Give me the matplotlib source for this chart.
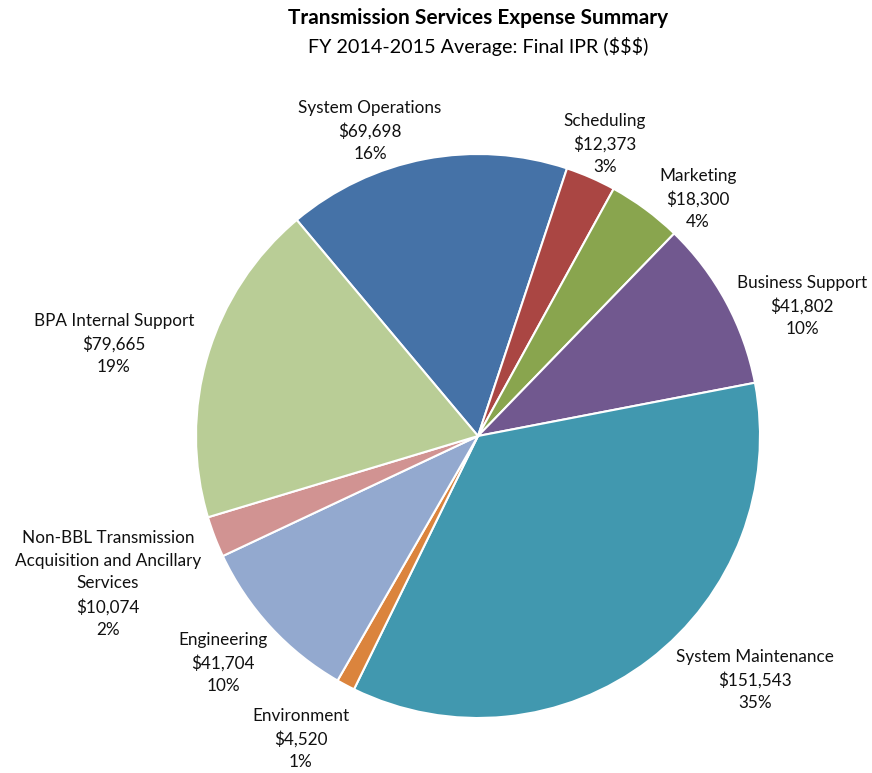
import matplotlib.pyplot as plt

# Transmission services expense categories, FY 2014-2015 average ($ thousands)
categories = ["System Operations", "Scheduling", "Marketing", "Business Support",
              "System Maintenance", "Environment", "Engineering",
              "Non-BBL Transmission\nAcquisition and Ancillary\nServices",
              "BPA Internal Support"]
expenses = [69698, 12373, 18300, 41802, 151543, 4520, 41704, 10074, 79665]
percents = [16, 3, 4, 10, 35, 1, 10, 2, 19]

colors = ["#4572A7", "#AA4643", "#89A54E", "#71588F", "#4198AF",
          "#DB843D", "#93A9CF", "#D19392", "#B9CD96"]

# label anchor points, in units of the pie radius
label_pos = [(-0.383, 1.082), (0.450, 1.035), (0.780, 0.840), (1.150, 0.461),
             (0.982, -0.865), (-0.628, -1.074), (-0.904, -0.805),
             (-1.312, -0.525), (-1.291, 0.326)]

plt.rcParams['font.family'] = ['Lato', 'DejaVu Sans']

W, H = 872, 773
cx, cy, R = 478, 436, 282

fig = plt.figure(figsize=(W / 100, H / 100), dpi=100)
ax = fig.add_axes([0, 0, 1, 1])

ax.pie(expenses, colors=colors, startangle=130, counterclock=False, radius=1,
       wedgeprops=dict(edgecolor='white', linewidth=1.5))

# pie() resets the limits, so fix them afterwards
ax.set_xlim(-cx / R, (W - cx) / R)
ax.set_ylim(-(H - cy) / R, cy / R)
ax.set_aspect('equal')
ax.axis('off')

for name, val, pct, (lx, ly) in zip(categories, expenses, percents, label_pos):
    ax.text(lx, ly, f"{name}\n${val:,}\n{pct}%", ha='center', va='center',
            fontsize=12.3, linespacing=1.5, color='#111111')

tx = cx / W
fig.text(tx, 1 - 18 / H, "Transmission Services Expense Summary", ha='center',
         va='center', fontsize=15, fontweight='bold', color='black')
fig.text(tx, 1 - 47 / H, "FY 2014-2015 Average: Final IPR ($$$)", ha='center',
         va='center', fontsize=14.2, color='black')

fig.savefig("out.png", dpi=100)
